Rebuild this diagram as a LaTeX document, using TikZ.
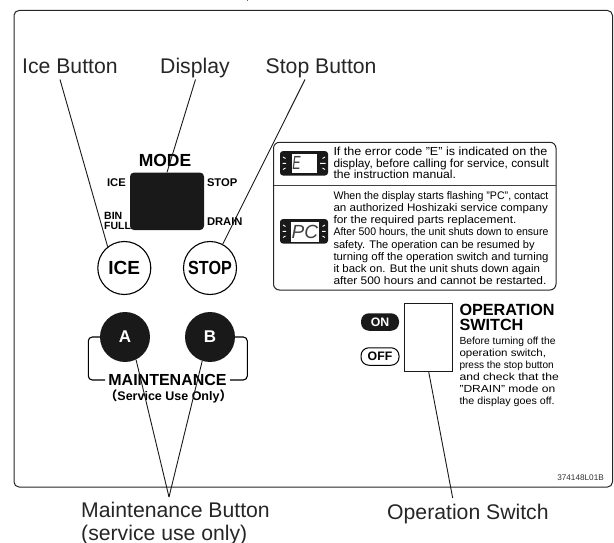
\documentclass[tikz,border=0pt]{standalone}
\usepackage{fontspec}
\setmainfont{Liberation Sans}
\newfontfamily\cjkparen{Noto Sans CJK JP}
\newcommand{\fitl}[2]{\scalebox{#1}[1]{#2}}
\tikzset{
  leader/.style={draw=black!90,line width=0.9pt},
  callout/.style={inner sep=0pt,anchor=base west,font=\fontsize{21.2}{24}\selectfont,text=black!85},
  panel/.style={draw=black!85,line width=1pt},
  lab/.style={inner sep=0pt,font=\fontsize{11.2}{12}\bfseries\selectfont},
  note/.style={inner sep=0pt,anchor=north west,align=left,font=\fontsize{11}{12.1}\selectfont},
  roundbtn/.style={circle,draw=black,line width=1.1pt,fill=white,minimum size=53pt,inner sep=0pt,font=\fontsize{19}{20}\bfseries\selectfont},
  darkbtn/.style={circle,fill=black!90,minimum size=50pt,inner sep=0pt,text=white,font=\fontsize{17}{20}\bfseries\selectfont},
  lcd/.style={fill=black!90,rounded corners=3pt,minimum width=48pt,minimum height=24.5pt,inner sep=0pt},
  lcdtick/.style={draw=white,line width=.9pt},
  lcdtext/.style={inner sep=0pt,font=\fontsize{19}{20}\itshape\selectfont,text=black!75},
  pill/.style={rounded corners=8pt,minimum width=38pt,minimum height=17.5pt,inner sep=0pt,font=\fontsize{12.3}{13}\bfseries\selectfont}
}
\begin{document}
\begin{tikzpicture}[x=1pt,y=-1pt]
\useasboundingbox (0,0) rectangle (614,543);
\fill[white] (0,0) rectangle (614,543);
\fill[black!60] (246.8,0) rectangle (248.2,1);
\draw[panel,rounded corners=5pt] (14,10.5) rectangle (612.5,487);
\node[callout] (ice) at (22,73.5) {Ice Button};
\node[callout] (disp) at (160,73.5) {Display};
\node[callout] (stop) at (265.5,73.5) {Stop Button};
\coordinate (icetop) at (60,79.5);
\coordinate (disptop) at (195.5,79.5);
\coordinate (stoptop) at (305,79.5);
% display
\node[fill=black!90,rounded corners=4pt,minimum width=74pt,minimum height=57.5pt,inner sep=0pt] (display) at (167,201.3) {};
\node[lab,font=\fontsize{17.5}{18}\bfseries\selectfont] (mode) at (165,160) {MODE};
\node[lab,anchor=east] (licel) at (126,183) {ICE};
\node[lab,anchor=west] (lstop) at (206.8,183) {STOP};
\node[lab,anchor=west] (ldrain) at (206.8,222) {DRAIN};
\node[lab,anchor=west,align=left,font=\fontsize{10.5}{10.8}\bfseries\selectfont] (lbin) at (104,221) {BIN\\FULL};
\node[roundbtn] (icebtn) at (124.3,268) {ICE};
\node[roundbtn] (stopbtn) at (210,268) {\scalebox{.85}[1]{STOP}};
\node[darkbtn] (a) at (125,337) {A};
\node[darkbtn] (b) at (210,337) {B};
\coordinate (al) at (105,380);
\coordinate (br) at (230,380);
\draw[line width=1.1pt,rounded corners=4pt] (a.west) -- (88.3,337) -- (88.3,380) -- (al);
\draw[line width=1.1pt,rounded corners=4pt] (b.east) -- (247.3,337) -- (247.3,380) -- (br);
\node[lab,font=\fontsize{16}{17}\bfseries\selectfont] (maint) at (167.5,380) {MAINTENANCE};
\node[lab,font=\fontsize{12.5}{13}\bfseries\selectfont] (svc) at (168.5,396.5) {{\cjkparen （}Service Use Only{\cjkparen ）}};
% notice
\draw[panel,rounded corners=6pt] (273.5,142.3) rectangle (556,290);
\draw[line width=.7pt,draw=black!75] (273.5,185) -- (556,185);
% E display
\node[lcd] (e) at (304,163.3) {};
\fill[white] (291.7,153.5) rectangle (316.7,172.7);
\node[lcdtext] (et) at (296.5,163.2) {\scalebox{.65}[1]{E}};
\draw[lcdtick] (283,157) -- (285.5,158.5) (282.5,163.3) -- (286,163.3) (283,169.5) -- (285.5,168)
  (325,157) -- (322.5,158.5) (325.5,163.3) -- (320,163.3) (325,169.5) -- (322.5,168);
% PC display
\node[lcd] (pc) at (304,231.3) {};
\fill[white] (290.7,221.7) rectangle (319.3,241.5);
\node[lcdtext] (pct) at (304.8,231.5) {PC};
\draw[lcdtick] (283,225) -- (285.5,226.5) (282.5,231.3) -- (286,231.3) (283,237.5) -- (285.5,236)
  (325,225) -- (322.5,226.5) (325.5,231.3) -- (322,231.3) (325,237.5) -- (322.5,236);
\node[note,font=\fontsize{11.7}{11.7}\selectfont] (n1) at (333.3,146.8) {\fitl{1.075}{If the error code "E" is indicated on the}\\\fitl{1.014}{display, before calling for service, consult}\\\fitl{1.04}{the instruction manual.}};
\node[note] (n2) at (333.3,191.5) {\fitl{.966}{When the display starts flashing "PC", contact}\\\fitl{1.056}{an authorized Hoshizaki service company}\\\fitl{1.084}{for the required parts replacement.}\\\fitl{.955}{After 500 hours, the unit shuts down to ensure}\\\fitl{1.005}{safety. The operation can be resumed by}\\\fitl{1.035}{turning off the operation switch and turning}\\\fitl{1.04}{it back on. But the unit shuts down again}\\\fitl{1.085}{after 500 hours and cannot be restarted.}};
% switch
\node[draw=black!90,line width=1pt,fill=white,minimum width=48pt,minimum height=68pt,inner sep=0pt] (sw) at (428.7,337.3) {};
\node[pill,fill=black!90,text=white] (on) at (380,322) {ON};
\node[pill,draw=black,line width=1pt] (off) at (380,356.5) {OFF};
\node[note,font=\fontsize{16.2}{15}\bfseries\selectfont] (op) at (459.3,303.5) {OPERATION\\SWITCH};
\node[note,font=\fontsize{10.3}{12}\selectfont] (optxt) at (459.3,337.2) {Before turning off the\\\fitl{1.12}{operation switch,}\\\fitl{.98}{press the stop button}\\\fitl{1.18}{and check that the}\\\fitl{1.17}{"DRAIN" mode on}\\\fitl{1.04}{the display goes off.}};
\node[inner sep=0pt,anchor=east,font=\fontsize{8.2}{9}\selectfont,text=black!80] (code) at (604,478) {374148L01B};
\node[callout] (mb) at (81,517) {Maintenance Button};
\node[callout] (mb2) at (81,540) {(service use only)};
\node[callout] (os) at (387,519) {Operation Switch};
\coordinate (mbtip) at (169,497);
\coordinate (ostip) at (452.7,498);
% leaders
\draw[leader] (icetop) -- (icebtn.128);
\draw[leader] (disptop) -- (display.north);
\draw[leader] (stoptop) -- (stopbtn.62);
\draw[leader] (a.-64) -- (mbtip);
\draw[leader] (b.-108) -- (mbtip);
\draw[leader] (sw.south) -- (ostip);
\end{tikzpicture}
\end{document}
